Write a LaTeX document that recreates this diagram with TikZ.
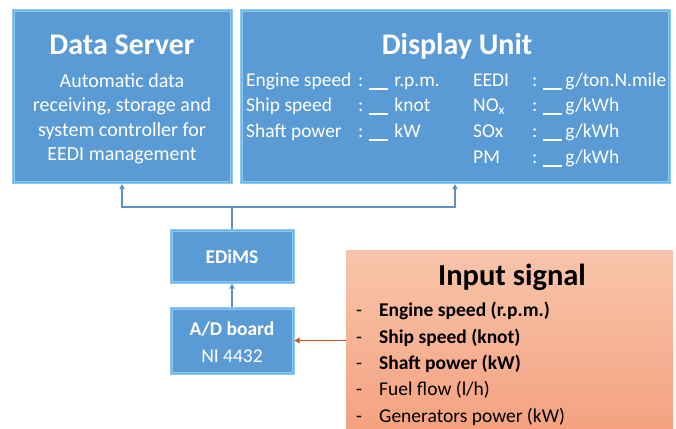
\documentclass[tikz,border=0pt]{standalone}
\usepackage{fontspec}
\setmainfont{Carlito}
\usetikzlibrary{arrows.meta}

\definecolor{panelblue}{HTML}{5B9BD5}
\definecolor{panelrim}{HTML}{8DCBF4}
\definecolor{panelinner}{HTML}{6FAEE6}
\definecolor{linkblue}{HTML}{5F8FC6}
\definecolor{signaltop}{HTML}{F8C5AB}
\definecolor{signalbot}{HTML}{F4A280}
\definecolor{signalline}{HTML}{C0581E}

% blank value field of the display unit
\newcommand{\blankval}{\rule[-3.5pt]{19pt}{1.2pt}}

\tikzset{
  panel/.style={draw=panelrim, line width=3pt, fill=panelblue, inner sep=0pt,
    postaction={draw=panelinner, line width=0.8pt}},
  title/.style={text=white, font=\fontsize{30}{34}\selectfont\bfseries, inner sep=0pt, anchor=base},
  body/.style={text=white, font=\fontsize{20}{24.5}\selectfont, inner sep=0pt, anchor=base},
  row/.style={text=white, font=\fontsize{19.5}{24}\selectfont, inner sep=0pt, anchor=base west},
  item/.style={text=black, font=\fontsize{19.5}{24}\selectfont, inner sep=0pt, anchor=base west},
  link/.style={draw=linkblue, line width=1.2pt, -{Triangle[width=5pt,length=5pt]}},
  signal/.style={draw=signalline, line width=1.6pt, -{Triangle[width=5.5pt,length=5pt]}}
}

\begin{document}
\begin{tikzpicture}[x=1pt,y=-1pt]
\useasboundingbox (0,0) rectangle (676,428);

% --- upper panels ---
\node[panel, minimum width=218pt, minimum height=172pt] (ds) at (122,96.5) {};
\node[panel, minimum width=428pt, minimum height=172pt] (du) at (455,96.5) {};

\node[title] (dstitle) at (122,54) {Data Server};
\node[body] (dsb1) at (122,87)    {Automatic data};
\node[body] (dsb2) at (122,111.5) {receiving, storage and};
\node[body] (dsb3) at (122,136)   {system controller for};
\node[body] (dsb4) at (122,160.5) {EEDI management};

\node[title] (dutitle) at (457,55) {Display Unit};
\node[row] (dul1) at (246,86)  {\makebox[112pt][l]{Engine speed}:\hspace{6pt}\blankval\hspace{6pt}r.p.m.};
\node[row] (dul2) at (246,111) {\makebox[112pt][l]{Ship speed}:\hspace{6pt}\blankval\hspace{6pt}knot};
\node[row] (dul3) at (246,137) {\makebox[112pt][l]{Shaft power}:\hspace{6pt}\blankval\hspace{6pt}kW};
\node[row] (dur1) at (473,86)  {\makebox[59pt][l]{EEDI}:\hspace{6pt}\blankval\hspace{3pt}g/ton.N.mile};
\node[row] (dur2) at (473,111) {\makebox[59pt][l]{NO\textsubscript{x}}:\hspace{6pt}\blankval\hspace{3pt}g/kWh};
\node[row] (dur3) at (473,137) {\makebox[59pt][l]{SOx}:\hspace{6pt}\blankval\hspace{3pt}g/kWh};
\node[row] (dur4) at (473,163) {\makebox[59pt][l]{PM}:\hspace{6pt}\blankval\hspace{3pt}g/kWh};

% --- processing chain ---
\node[panel, minimum width=122pt, minimum height=52pt] (edims) at (232,256) {};
\node[title, font=\fontsize{19.5}{24}\selectfont\bfseries] (edimslabel) at (232,263) {EDiMS};

\node[panel, minimum width=122pt, minimum height=65pt] (ad) at (232,340.5) {};
\node[title, font=\fontsize{19.5}{24}\selectfont\bfseries] (adlabel) at (232,335) {A/D board};
\node[title, font=\fontsize{19.5}{24}\selectfont] (adlabel2) at (232,362) {NI 4432};

% --- input signal panel ---
\node[inner sep=0pt, top color=signaltop, bottom color=signalbot,
      minimum width=327pt, minimum height=178pt] (input) at (509.5,339) {};
\node[title, text=black, font=\fontsize{30.5}{34}\selectfont\bfseries] (inputtitle) at (512,285) {Input signal};
\foreach \y/\txt/\nm in {316/{\bfseries Engine speed (r.p.m.)}/s1,
                        343/{\bfseries Ship speed (knot)}/s2,
                        369/{\bfseries Shaft power (kW)}/s3,
                        395/{Fuel flow (l/h)}/s4,
                        422/{Generators power (kW)}/s5}{
  \node[item] (dash-\nm) at (356,\y) {-};
  \node[item] (\nm) at (379,\y) {\txt};
}

% --- connectors ---
\coordinate (split) at (232,207);
\draw[draw=linkblue, line width=1.2pt] (edims.north) -- (split);
\draw[link] (split) -| (ds.south);
\draw[link] (split) -| (du.south);
\draw[link] (ad.north) -- (edims.south);
\draw[signal] (input.west |- ad.east) -- (ad.east);
\end{tikzpicture}
\end{document}
